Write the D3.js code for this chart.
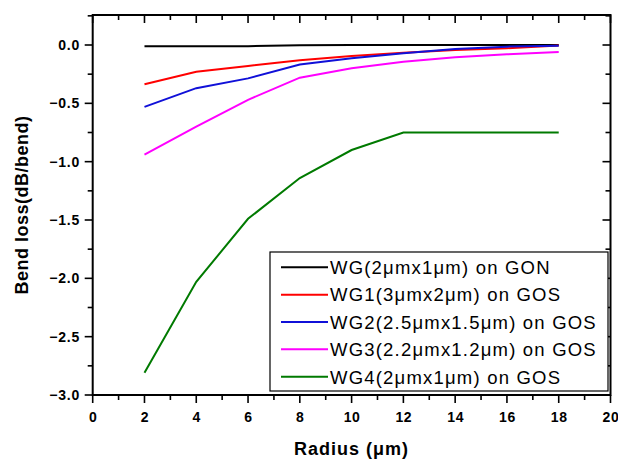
<!DOCTYPE html>
<html><head><meta charset="utf-8">
<script src="https://cdn.jsdelivr.net/npm/d3@7"></script>
<style>body{margin:0;background:#fff}svg{display:block}text{font-family:"Liberation Sans",Arial,sans-serif}</style>
</head><body>
<svg id="c" width="618" height="459"></svg>
<script>
const radius = [2,4,6,8,10,12,14,16,18];
const wgGON = [-0.01,-0.01,-0.01,-0.002,0,0,0,0,0];
const wg1 = [-0.337,-0.229,-0.18,-0.13,-0.094,-0.066,-0.043,-0.028,-0.005];
const wg2 = [-0.53,-0.37,-0.286,-0.167,-0.114,-0.071,-0.034,-0.014,-0.006];
const wg3 = [-0.94,-0.70,-0.47,-0.28,-0.20,-0.143,-0.105,-0.08,-0.06];
const wg4 = [-2.81,-2.03,-1.49,-1.14,-0.90,-0.75,-0.75,-0.75,-0.75];
const seriesNames = ["WG(2\u03bcmx1\u03bcm) on GON","WG1(3\u03bcmx2\u03bcm) on GOS","WG2(2.5\u03bcmx1.5\u03bcm) on GOS","WG3(2.2\u03bcmx1.2\u03bcm) on GOS","WG4(2\u03bcmx1\u03bcm) on GOS"];
const seriesColors = ["#000000","#ff0000","#1010d8","#ff00ff","#007a00"];
const xTicks = [0,2,4,6,8,10,12,14,16,18,20];
const yTicks = [0,-0.5,-1,-1.5,-2,-2.5,-3];
const xTitle = "Radius (\u03bcm)";
const yTitle = "Bend loss(dB/bend)";

const series = [wgGON,wg1,wg2,wg3,wg4];
const svg = d3.select("#c");
const L=92.7,R=610.5,T=15,B=395;
const x = d3.scaleLinear().domain([0,20]).range([L,R]);
const y = d3.scaleLinear().domain([-3,0]).range([B,45]);

const xMinor = d3.range(1,20,2);
const yMinor = d3.range(-2.75,0.3,0.5);

const g = svg.append("g");
g.selectAll(".xb").data(xTicks).join("line").attr("x1",d=>x(d)).attr("x2",d=>x(d)).attr("y1",B).attr("y2",B+8).attr("stroke","#000").attr("stroke-width",1.6);
g.selectAll(".xbm").data(xMinor).join("line").attr("x1",d=>x(d)).attr("x2",d=>x(d)).attr("y1",B).attr("y2",B+5).attr("stroke","#000").attr("stroke-width",1.6);
g.selectAll(".xt").data(xTicks).join("line").attr("x1",d=>x(d)).attr("x2",d=>x(d)).attr("y1",T).attr("y2",T+8).attr("stroke","#000").attr("stroke-width",1.6);
g.selectAll(".xtm").data(xMinor).join("line").attr("x1",d=>x(d)).attr("x2",d=>x(d)).attr("y1",T).attr("y2",T+5).attr("stroke","#000").attr("stroke-width",1.6);
g.selectAll(".yl").data(yTicks).join("line").attr("x1",L-8).attr("x2",L).attr("y1",d=>y(d)).attr("y2",d=>y(d)).attr("stroke","#000").attr("stroke-width",1.6);
g.selectAll(".ylm").data(yMinor).join("line").attr("x1",L-5).attr("x2",L).attr("y1",d=>y(d)).attr("y2",d=>y(d)).attr("stroke","#000").attr("stroke-width",1.6);
g.selectAll(".yr").data(yTicks).join("line").attr("x1",R-8).attr("x2",R).attr("y1",d=>y(d)).attr("y2",d=>y(d)).attr("stroke","#000").attr("stroke-width",1.6);
g.selectAll(".yrm").data(yMinor).join("line").attr("x1",R-5).attr("x2",R).attr("y1",d=>y(d)).attr("y2",d=>y(d)).attr("stroke","#000").attr("stroke-width",1.6);

svg.append("rect").attr("x",L).attr("y",T).attr("width",R-L).attr("height",B-T).attr("fill","none").attr("stroke","#000").attr("stroke-width",2);

svg.selectAll(".xl").data(xTicks).join("text").attr("x",d=>x(d)+0.5).attr("y",422).attr("text-anchor","middle").attr("font-size",14).attr("font-weight","bold").attr("letter-spacing","0.6px").text(d=>d);
svg.selectAll(".ylab").data(yTicks).join("text").attr("x",80).attr("y",d=>y(d)+5).attr("text-anchor","end").attr("font-size",14).attr("font-weight","bold").attr("letter-spacing","0.8px").text(d=>d3.format(".1f")(d));

svg.append("text").attr("x",(L+R)/2).attr("y",455).attr("text-anchor","middle").attr("font-size",18).attr("font-weight","bold").attr("letter-spacing","1px").text(xTitle);
svg.append("text").attr("transform",`translate(28,${(T+B)/2}) rotate(-90)`).attr("text-anchor","middle").attr("font-size",18).attr("font-weight","bold").attr("letter-spacing","0.5px").text(yTitle);

const line = d3.line().x((d,i)=>x(radius[i])).y(d=>y(d));
series.forEach((s,k)=>{
  svg.append("path").datum(s).attr("d",line).attr("fill","none").attr("stroke",seriesColors[k]).attr("stroke-width",2);
});

const lg = svg.append("g");
lg.append("rect").attr("x",270).attr("y",252).attr("width",338).attr("height",139).attr("fill","#fff").attr("stroke","#000").attr("stroke-width",1.2);
seriesNames.forEach((n,k)=>{
  const yy = 267.3 + k*27.35;
  lg.append("line").attr("x1",281).attr("x2",328).attr("y1",yy).attr("y2",yy).attr("stroke",seriesColors[k]).attr("stroke-width",2);
  lg.append("text").attr("x",330).attr("y",yy+6.8).attr("font-size",18.5).attr("letter-spacing","1.2px").text(n);
});
</script>
</body></html>
